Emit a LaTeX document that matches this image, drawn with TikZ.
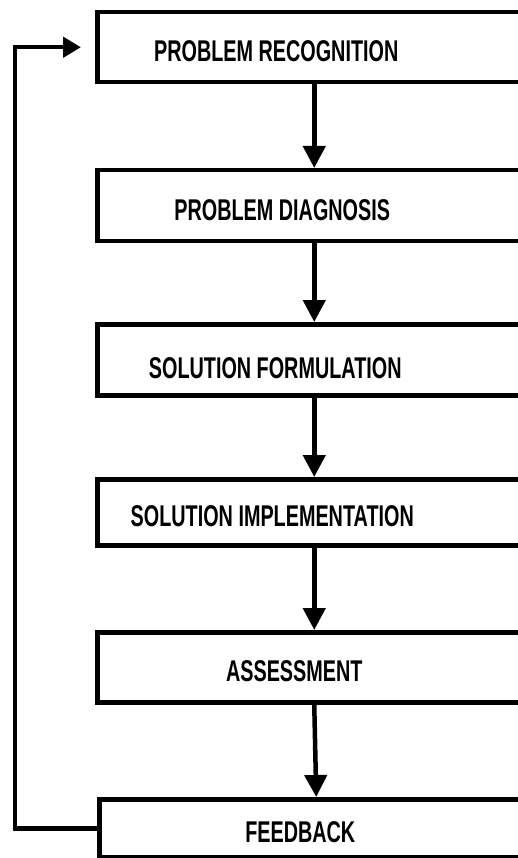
\documentclass[tikz,border=0pt]{standalone}
\usepackage{fontspec}
\newfontfamily\stagefont[FakeStretch=0.66]{Liberation Sans}
\usetikzlibrary{arrows.meta,positioning}

\begin{document}
\begin{tikzpicture}[x=1pt,y=-1pt,line width=4.5pt,
    >={Triangle[length=22pt,width=22pt]},
    stage/.style={draw,rectangle,anchor=north west,minimum width=434pt,
      inner sep=0pt,line join=miter},
    txt/.style={font=\stagefont\bfseries\fontsize{30}{36}\selectfont,yshift=-4pt}]
  \clip (0,0) rectangle (518,858);
  \fill[white] (0,0) rectangle (518,858);

  % stages
  \node[stage,minimum height=70pt,label={[txt,xshift=-38pt]center:PROBLEM RECOGNITION}] (recog) at (95,10) {};
  \node[stage,minimum height=71pt,label={[txt,xshift=-32pt]center:PROBLEM DIAGNOSIS}] (diag) at (95,168) {};
  \node[stage,minimum height=71pt,label={[txt,xshift=-39pt,yshift=-4pt]center:SOLUTION FORMULATION}] (formul) at (95,322) {};
  \node[stage,minimum height=66pt,label={[txt,xshift=-42pt]center:SOLUTION IMPLEMENTATION}] (implem) at (95,477) {};
  \node[stage,minimum height=70pt,label={[txt,xshift=-20pt]center:ASSESSMENT}] (assess) at (95,630) {};
  \node[stage,minimum height=58pt,label={[txt,xshift=-16pt]center:FEEDBACK}] (feed) at (97,797) {};

  % flow
  \draw[->] (recog.south) -- (diag.north);
  \draw[->] (diag.south) -- (formul.north);
  \draw[->] (formul.south) -- (implem.north);
  \draw[->] (implem.south) -- (assess.north);
  \draw[->] (assess.south) -- (feed.north);

  % feedback loop
  \draw[->,>={Triangle[length=18pt,width=20pt]},shorten >=14pt]
    (feed.west) -- ++(-82,0) |- (recog.west);
\end{tikzpicture}
\end{document}
